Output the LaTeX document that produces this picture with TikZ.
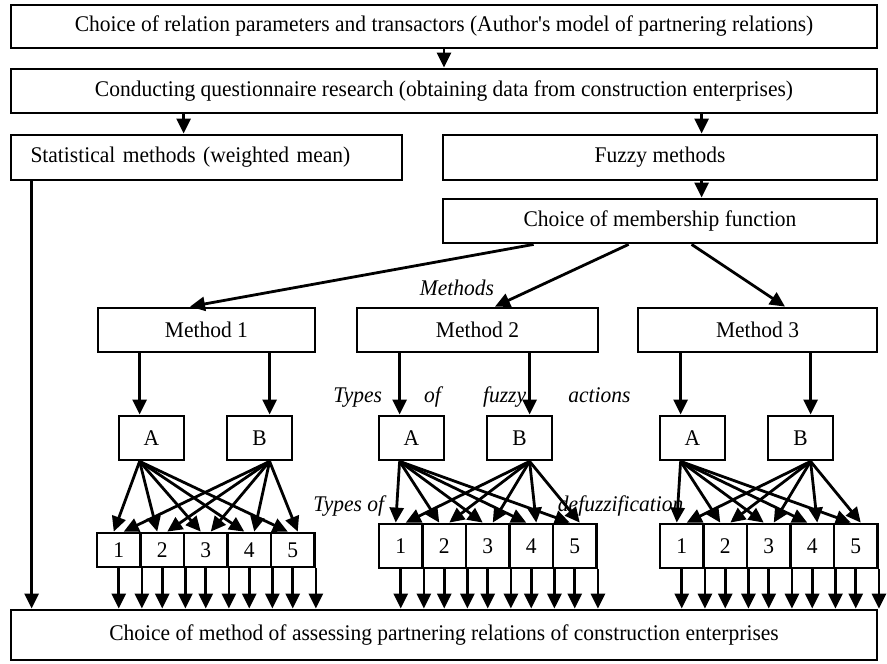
\documentclass[tikz,border=0pt]{standalone}
\usepackage{fontspec}
\setmainfont[FakeStretch=0.96]{Liberation Serif}
\usetikzlibrary{arrows.meta,calc,positioning}

\tikzset{
	box/.style={draw, line width=1.4pt, inner sep=0pt, font=\fontsize{11.2}{13}\selectfont},
	arr/.style={line width=1.4pt, -{Triangle[length=7.5pt,width=7pt]}},
	note/.style={inner sep=0pt, font=\fontsize{11.2}{13}\selectfont\itshape},
}

\begin{document}
\begin{tikzpicture}[x=0.5pt, y=-0.5pt]
	\useasboundingbox (0,0) rectangle (887,663);
	% Place nodes
	\node [box, minimum width=433pt, minimum height=21.5pt] (choice) at (444,26.5) {Choice of relation parameters and transactors (Author\textquotesingle s model of partnering relations)};
	\node [box, minimum width=433pt, minimum height=22pt] (conduct) at (444,91) {Conducting questionnaire research (obtaining data from construction enterprises)};
	\node [box, minimum width=195.5pt, minimum height=22.5pt, text width=176pt, align=left] (stat) at (206.5,157.5) {Statistical methods (weighted mean)};
	\node [box, minimum width=217pt, minimum height=22.5pt] (fuzzy) at (660,157.5) {Fuzzy methods};
	\node [box, minimum width=217pt, minimum height=22pt] (member) at (660,221) {Choice of membership function};
	\node [box, minimum width=108.5pt, minimum height=22pt] (m1) at (206.5,330) {Method 1};
	\node [box, minimum width=120.5pt, minimum height=22pt] (m2) at (477.5,330) {Method 2};
	\node [box, minimum width=119.5pt, minimum height=22pt] (m3) at (757.5,330) {Method 3};
	\node [box, minimum width=433pt, minimum height=25pt] (bottom) at (444,635) {Choice of method of assessing partnering relations of construction enterprises};
	
	\node [note] (methods) at (457,288) {Methods};
	\node [note, anchor=west] (actions) at (333,397) {\makebox[148.5pt][s]{Types of fuzzy actions}};
	\node [note, anchor=west] (defuzz) at (313,506) {\makebox[185pt]{Types of\hfill defuzzification}};
	
	% Draw edges
	\coordinate (s) at ($(stat.south west)+(22,0)$);
	\coordinate (ts) at ($(stat.north west)+(174,0)$);
	\coordinate (tf) at ($(fuzzy.north west)+(260,0)$);
	\draw [arr] (choice) -- (conduct);
	\draw [arr] (conduct.south -| ts) -- (ts);
	\draw [arr] (conduct.south -| tf) -- (tf);
	\draw [arr] (fuzzy.south -| tf) -- (member.north -| tf);
	\draw [arr] (s) -- (s |- bottom.north);
	\draw [arr] ($(member.south west)+(92,0)$) -- ($(m1.north)+(-16.5,0)$);
	\draw [arr] ($(member.south west)+(187,0)$) -- ($(m2.north)+(17.5,0)$);
	\draw [arr] ($(member.south west)+(250,0)$) -- ($(m3.north)+(27.5,0)$);
	
	% One group per method
	\foreach \g/\L/\a/\m/\cy/\ch in {1/97/22/m1/550/17pt, 2/379/0/m2/546/22pt, 3/660/0/m3/546/22pt} {
		\node [box, minimum width=32.5pt, minimum height=22pt] (a\g) at (\L+\a+32.5,438) {A};
		\node [box, minimum width=32.5pt, minimum height=22pt] (b\g) at (\L+\a+140.5,438) {B};
		\foreach \i in {1,...,5}
			\node [box, minimum width=21.75pt, minimum height=\ch] (c\g\i) at (\L+43.5*\i-21.75,\cy) {\i};
		\coordinate (ta\g) at ($(a\g.north west)+(22,0)$);
		\coordinate (tb\g) at ($(b\g.north west)+(44,0)$);
		\coordinate (ba\g) at ($(a\g.south west)+(22,0)$);
		\coordinate (bb\g) at ($(b\g.south west)+(44,0)$);
		\draw [arr] (\m.south -| ta\g) -- (ta\g);
		\draw [arr] (\m.south -| tb\g) -- (tb\g);
		\foreach \i in {1,...,5} {
			\draw [arr] (ba\g) -- ($(c\g\i.north)+(-5,0)$);
			\draw [arr] (bb\g) -- ($(c\g\i.north)+(5,0)$);
			\draw [arr] (c\g\i.south) -- (c\g\i.south |- bottom.north);
			\draw [arr] (c\g\i.south east) -- (c\g\i.south east |- bottom.north);
		}
	}
\end{tikzpicture}
\end{document}
